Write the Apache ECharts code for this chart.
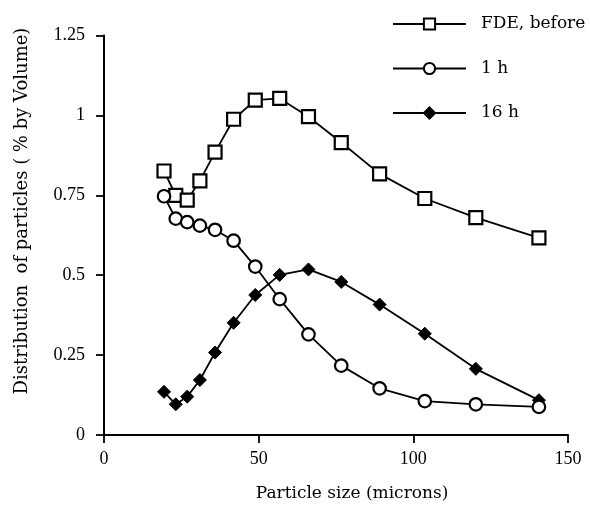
<!DOCTYPE html>
<html>
<head>
<meta charset="utf-8">
<script src="https://cdn.jsdelivr.net/npm/echarts@6/dist/echarts.min.js"></script>
<style>html,body{margin:0;padding:0;background:#fff;}#c{width:590px;height:520px;}</style>
</head>
<body>
<div id="c"></div>
<script>
const sizes = [19.4, 23.2, 26.9, 31.0, 35.9, 41.9, 48.9, 56.8, 66.1, 76.7, 89.1, 103.7, 120.2, 140.6];
const fdeBefore = [0.826, 0.750, 0.735, 0.795, 0.885, 0.988, 1.048, 1.053, 0.996, 0.915, 0.817, 0.740, 0.680, 0.617];
const oneHour = [0.747, 0.677, 0.666, 0.655, 0.642, 0.608, 0.527, 0.425, 0.315, 0.217, 0.146, 0.106, 0.096, 0.088];
const sixteenHour = [0.135, 0.096, 0.120, 0.172, 0.258, 0.351, 0.438, 0.501, 0.518, 0.479, 0.408, 0.317, 0.207, 0.109];
const seriesNames = ['FDE, before', '1 h', '16 h'];
const xTitle = 'Particle size (microns)';
const yTitle = 'Distribution  of particles ( % by Volume)';

const TICKFONT = '"Liberation Serif", serif';
const FONT = '"DejaVu Serif", serif';
const pairs = (ys) => sizes.map((x, i) => [x, ys[i]]);

const chart = echarts.init(document.getElementById('c'), null, {renderer: 'canvas'});
const lineStyle = {color: '#000', width: 1.8};
chart.setOption({
  animation: false,
  backgroundColor: '#fff',
  grid: {left: 104, right: 22, top: 35.5, bottom: 85, containLabel: false},
  xAxis: {
    type: 'value', min: 0, max: 150, interval: 50,
    axisLine: {show: true, onZero: false, lineStyle: {color: '#000', width: 2}},
    axisTick: {show: true, length: 8, lineStyle: {color: '#000', width: 1.8}},
    axisLabel: {color: '#000', fontFamily: TICKFONT, fontSize: 18, margin: 15},
    splitLine: {show: false}
  },
  yAxis: {
    type: 'value', min: 0, max: 1.25, interval: 0.25,
    axisLine: {show: true, onZero: false, lineStyle: {color: '#000', width: 2}},
    axisTick: {show: true, length: 8, lineStyle: {color: '#000', width: 1.8}},
    axisLabel: {color: '#000', fontFamily: TICKFONT, fontSize: 18, margin: 19},
    splitLine: {show: false}
  },
  legend: {
    orient: 'vertical', left: 387, top: 10,
    itemWidth: 73, itemHeight: 14, itemGap: 26.5,
    textStyle: {color: '#000', fontFamily: FONT, fontSize: 17, lineHeight: 18, padding: [0, 0, 0, 10]},
    data: seriesNames
  },
  graphic: [
    {type: 'text', silent: true, x: 352, y: 494,
     style: {text: xTitle, x: 0, y: 0, textAlign: 'center', textVerticalAlign: 'middle', font: '17px ' + FONT, fill: '#000'}},
    {type: 'text', silent: true, x: 22, y: 211, rotation: Math.PI / 2,
     style: {text: yTitle, x: 0, y: 0, textAlign: 'center', textVerticalAlign: 'middle', font: '18px ' + FONT, fill: '#000'}}
  ],
  series: [
    {name: seriesNames[0], type: 'line', data: pairs(fdeBefore), symbol: 'rect', symbolSize: 13,
     itemStyle: {color: '#fff', borderColor: '#000', borderWidth: 2.2}, lineStyle: lineStyle, z: 3},
    {name: seriesNames[1], type: 'line', data: pairs(oneHour), symbol: 'circle', symbolSize: 12.5,
     itemStyle: {color: '#fff', borderColor: '#000', borderWidth: 2.2}, lineStyle: lineStyle, z: 4},
    {name: seriesNames[2], type: 'line', data: pairs(sixteenHour), symbol: 'diamond', symbolSize: 13,
     itemStyle: {color: '#000', borderColor: '#000', borderWidth: 1}, lineStyle: lineStyle, z: 2}
  ]
});
</script>
</body>
</html>
